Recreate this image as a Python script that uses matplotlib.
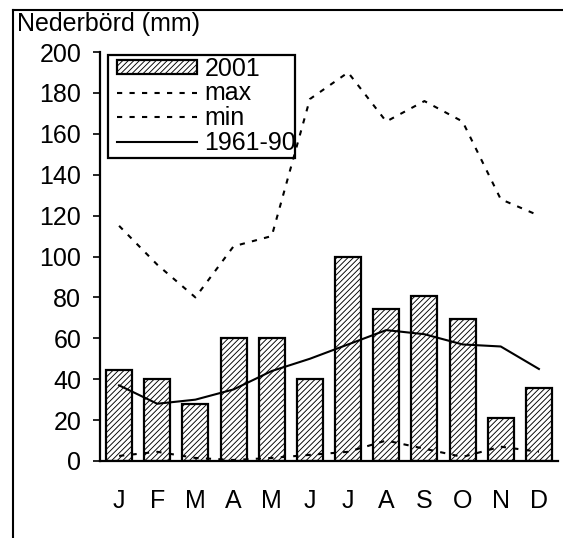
import matplotlib
matplotlib.use("Agg")
import matplotlib.pyplot as plt
from matplotlib.lines import Line2D
from matplotlib.patches import Rectangle
import numpy as np

# Monthly precipitation (mm)
months = ["J", "F", "M", "A", "M", "J", "J", "A", "S", "O", "N", "D"]
rain_2001 = [44.5, 40, 28, 60, 60, 40, 100, 74.5, 80.5, 69.5, 21, 35.5]
rain_max = [115, 96, 80, 105, 110, 177, 190, 166, 176, 166, 128, 120]
rain_min = [2.5, 4.5, 1.5, 0.5, 1.5, 3, 4.5, 10, 6, 2, 7, 4.5]
rain_normal = [37, 28, 30, 35, 44, 50, 57, 64, 62, 57, 56, 45]
y_ticks = [0, 20, 40, 60, 80, 100, 120, 140, 160, 180, 200]

plt.rcParams["font.family"] = ["Liberation Sans", "DejaVu Sans"]
plt.rcParams["hatch.linewidth"] = 0.65

W, H = 563, 538
fig = plt.figure(figsize=(W / 100, H / 100), dpi=100)
ax = fig.add_axes([100 / W, 1 - 461 / H, 458 / W, 409 / H])

x = np.arange(len(months))
fs = 18

bars = ax.bar(x, rain_2001, width=0.68, facecolor="white", edgecolor="black",
              linewidth=1.6, hatch="//////", label="2001", zorder=2)
dash = (0, (2.5, 3.5))
l_max, = ax.plot(x, rain_max, color="black", linewidth=1.5, linestyle=dash,
                 label="max", zorder=3)
l_min, = ax.plot(x, rain_min, color="black", linewidth=1.5, linestyle=dash,
                 label="min", zorder=3)
l_norm, = ax.plot(x, rain_normal, color="black", linewidth=1.5,
                  linestyle="-", label="1961-90", zorder=3)

ax.set_xlim(-0.5, 11.5)
ax.set_ylim(0, 200)
ax.set_yticks(y_ticks)
ax.set_xticks(x)
ax.set_xticklabels(months)

for side in ("top", "right"):
    ax.spines[side].set_visible(False)
for side in ("left", "bottom"):
    ax.spines[side].set_linewidth(1.6)

ax.tick_params(axis="y", direction="out", length=5, width=1.2, pad=8.5,
               labelsize=fs)
ax.tick_params(axis="x", length=0, pad=20.5, labelsize=fs)

# Legend entries without their own frame; the box is drawn separately
leg = ax.legend(handles=[bars, l_max, l_min, l_norm],
                loc="upper left", bbox_to_anchor=(117 / W, 1 - 57 / H),
                bbox_transform=fig.transFigure, borderaxespad=0,
                fontsize=fs, frameon=False, borderpad=0,
                labelspacing=0.02, handlelength=3.2,
                handleheight=0.45, handletextpad=0.3)
fig.add_artist(Rectangle((108 / W, 1 - 158 / H), 187 / W, 103 / H,
                         transform=fig.transFigure, facecolor="none",
                         edgecolor="black", linewidth=1.6, zorder=4))

fig.text(17 / W, 1 - 31 / H, "Nederbörd (mm)", fontsize=fs,
         ha="left", va="baseline")

# Outer frame (top and left edges)
fig.add_artist(Line2D([13 / W, 1.0], [1 - 10 / H, 1 - 10 / H],
                      transform=fig.transFigure, color="black", linewidth=1.5))
fig.add_artist(Line2D([13 / W, 13 / W], [1 - 10 / H, 0.0],
                      transform=fig.transFigure, color="black", linewidth=1.5))

fig.savefig("out.png", dpi=100)
